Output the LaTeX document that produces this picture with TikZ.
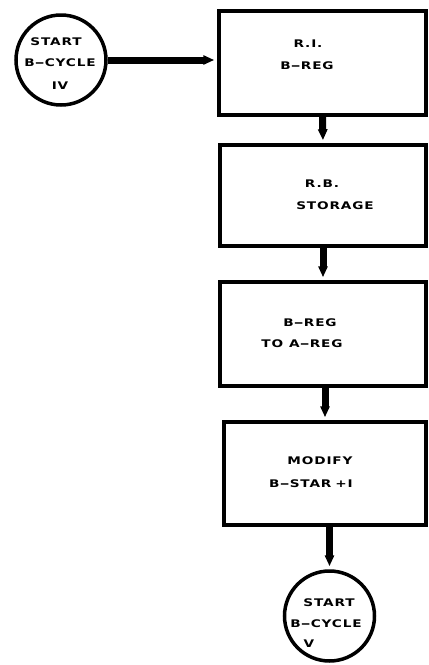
\documentclass[tikz,border=0pt]{standalone}
\usepackage{fontspec}
\usetikzlibrary{arrows.meta}
\newfontfamily\labfont{DejaVu Sans}[FakeStretch=1.3, LetterSpace=8]
\newcommand{\wdash}{\scalebox{1.8}[1]{-}}
\begin{document}
\begin{tikzpicture}[x=1pt, y=-1pt,
  box/.style={draw, line width=3.5pt, rectangle, inner sep=0pt},
  term/.style={draw, line width=3.5pt, circle, inner sep=0pt, minimum size=90pt},
  lab/.style={font=\labfont\bfseries\fontsize{10.5}{11}\selectfont, inner sep=0pt, anchor=base},
  conn/.style={line width=7pt, -{Triangle[length=11pt,width=9pt]}, shorten >=3pt}]
\useasboundingbox (0,0) rectangle (429,665);
% shapes
\node[term] (c1) at (61,60) {};
\node[box, minimum width=207pt, minimum height=104pt] (b1) at (322.5,63) {};
\node[box, minimum width=206pt, minimum height=101pt] (b2) at (323,195.5) {};
\node[box, minimum width=206pt, minimum height=104pt] (b3) at (323,334) {};
\node[box, minimum width=202pt, minimum height=103pt] (b4) at (325,473.5) {};
\node[term] (c2) at (329.5,616) {};
% labels
\node[lab] (t1a) at (56,45) {START};
\node[lab] (t1b) at (60,66) {B\wdash CYCLE};
\node[lab] (t1c) at (60,89) {IV};
\node[lab] (l1a) at (308,47) {R.I.};
\node[lab] (l1b) at (307,69) {B\wdash REG};
\node[lab] (l2a) at (322,187) {R.B.};
\node[lab] (l2b) at (335,209) {STORAGE};
\node[lab] (l3a) at (310,326) {B\wdash REG};
\node[lab] (l3b) at (302,347) {TO\hspace{6pt}A\wdash REG};
\node[lab] (l4a) at (320,464) {MODIFY};
\node[lab] (l4b) at (311,487) {B\wdash STAR\hspace{4pt}+I};
\node[lab] (t2a) at (329,606) {START};
\node[lab] (t2b) at (326,627) {B\wdash CYCLE};
\node[lab] (t2c) at (309,647) {V};
% connectors
\draw[conn] (c1.east) -- (c1.east -| b1.west);
\draw[conn] (b1.south) -- (b2.north);
\draw[conn] (b2.south) -- (b3.north);
\draw[conn] (b4.north |- b3.south) -- (b4.north);
\draw[conn] (c2.north |- b4.south) -- (c2.north);
\end{tikzpicture}
\end{document}
